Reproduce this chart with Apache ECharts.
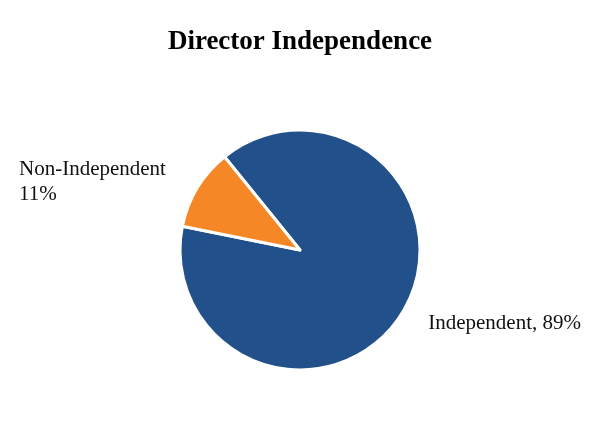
<!DOCTYPE html>
<html>
<head>
<meta charset="utf-8">
<script src="https://cdn.jsdelivr.net/npm/echarts@6/dist/echarts.min.js"></script>
<style>
    html, body { margin: 0; padding: 0; background: #fff; }
    #chart { width: 600px; height: 440px; }
</style>
</head>
<body>
<div id="chart"></div>
<script>
// data
const categories = ['Independent', 'Non-Independent'];
const values = [89, 11];
const colors = ['#22508A', '#F58726'];

const chart = echarts.init(document.getElementById('chart'));

chart.setOption({
    animation: false,
    title: {
        text: 'Director Independence',
        left: 'center',
        top: 24,
        textStyle: {
            fontFamily: 'Liberation Serif',
            fontWeight: 'bold',
            fontSize: 27,
            color: '#000'
        }
    },
    series: [
        {
            type: 'pie',
            center: [300, 250],
            radius: 120,
            startAngle: 129,
            clockwise: true,
            itemStyle: {
                borderColor: '#fff',
                borderWidth: 3
            },
            label: {
                show: true,
                position: 'outside',
                alignTo: 'edge',
                edgeDistance: 19,
                overflow: 'none',
                fontFamily: 'Liberation Serif',
                fontSize: 21,
                color: '#111',
                lineHeight: 25
            },
            labelLine: {
                show: false,
                length: 20,
                length2: 10
            },
            data: [
                {
                    name: categories[0],
                    value: values[0],
                    itemStyle: {color: colors[0]},
                    label: {formatter: '{b}, {c}%', overflow: 'none'},
                    labelLine: {length: 22}
                },
                {
                    name: categories[1],
                    value: values[1],
                    itemStyle: {color: colors[1]},
                    label: {formatter: '{b}\n{c}%'},
                    labelLine: {length: 11}
                }
            ]
        }
    ]
});
</script>
</body>
</html>
